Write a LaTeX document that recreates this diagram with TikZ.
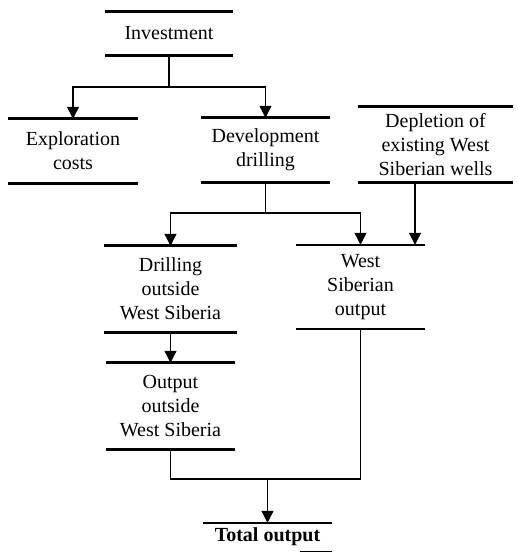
\documentclass[tikz,border=0pt]{standalone}
\usepackage{fontspec}
\setmainfont{Liberation Serif}
\usetikzlibrary{arrows.meta,calc}
\tikzset{
  box/.style={draw=none, inner sep=0pt, align=center, font=\fontsize{20}{24}\selectfont},
  bar/.style={line width=3pt},
  thinbar/.style={line width=2.2pt},
  conn/.style={line width=1.1pt},
  arr/.style={conn, -{Triangle[length=12pt,width=12pt]}},
}
\newcommand\twobars[2][bar]{\draw[#1] (#2.north west) -- (#2.north east) (#2.south west) -- (#2.south east);}
\begin{document}
\begin{tikzpicture}[x=1pt,y=-1pt]
\useasboundingbox (0,0) rectangle (517,553);
\node[box, minimum width=128pt, minimum height=43pt] (inv) at (169,33.5) {Investment};
\node[box, minimum width=130pt, minimum height=64pt] (expl) at (73,151) {Exploration\\costs};
\node[box, minimum width=129pt, minimum height=64pt] (dev) at (265.5,150) {Development\\drilling};
\node[box, minimum width=155pt, minimum height=75pt] (depl) at (435.5,144.5) {Depletion of\\existing West\\Siberian wells};
\node[box, minimum width=132pt, minimum height=86pt] (dow) at (170.5,289) {Drilling\\outside\\West Siberia};
\node[box, minimum width=129pt, minimum height=84pt] (wso) at (360.5,287) {West\\Siberian\\output};
\node[box, minimum width=129pt, minimum height=86pt] (oow) at (170.5,406) {Output\\outside\\West Siberia};
\node[box, minimum width=129pt, minimum height=28pt, font=\fontsize{20}{24}\selectfont\bfseries] (tot) at (267.5,537) {Total output};

\twobars{inv}
\twobars{expl}
\twobars{dev}
\twobars{depl}
\twobars{dow}
\twobars[thinbar]{wso}
\twobars{oow}
\draw[thinbar] (tot.north west) -- (tot.north east);
\draw[line width=1pt] ($(tot.south east)+(-32,0)$) -- (tot.south east);

\coordinate (j1) at (169,87);
\draw[conn] (inv.south) -- (j1);
\draw[arr] (j1) -| (expl.north);
\draw[arr] (j1) -| (dev.north);

\coordinate (j2) at (265.5,213);
\draw[conn] (dev.south) -- (j2);
\draw[arr] (j2) -| (dow.north);
\draw[arr] (j2) -| (wso.north);

\coordinate (xq) at (415,0);
\draw[arr] (depl.south -| xq) -- (wso.north -| xq);

\draw[arr] (dow.south) -- (oow.north);

\coordinate (j3) at (0,479);
\draw[conn] (oow.south) |- (wso.south |- j3) -- (wso.south);
\draw[arr] (tot.north |- j3) -- (tot.north);
\end{tikzpicture}
\end{document}
